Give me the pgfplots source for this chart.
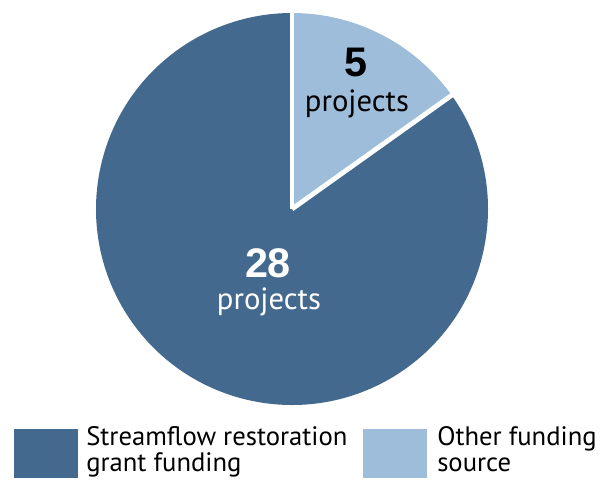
\documentclass[border=0pt]{standalone}
\usepackage{pgfplots}
\pgfplotsset{compat=1.18}
\usepackage{fontspec}
\setmainfont{PT Sans}
\newfontfamily\numfont{Liberation Sans}
\definecolor{darkblue}{RGB}{68,105,143}
\definecolor{lightblue}{RGB}{158,189,218}
\begin{document}
\begin{tikzpicture}
\pgfmathsetmacro{\vA}{28}
\pgfmathsetmacro{\vB}{5}
\pgfmathsetmacro{\angB}{90-360*\vB/(\vA+\vB)}
\begin{axis}[
  scale only axis, width=453pt, height=359.25pt,
  xmin=0, xmax=604, ymin=0, ymax=479, y dir=reverse,
  hide axis, clip=false]
  % pie slices (radius 196 px = 147pt)
  \fill[darkblue] (axis cs:292,209) -- ++(\angB:147pt) arc[start angle=\angB, end angle=-270, radius=147pt] -- cycle;
  \fill[lightblue] (axis cs:292,209) -- ++(90:147pt) arc[start angle=90, end angle=\angB, radius=147pt] -- cycle;
  \draw[white, line width=3.6pt] (axis cs:292,209) -- ++(90:150pt);
  \draw[white, line width=3.6pt] (axis cs:292,209) -- ++(\angB:150pt);
  % labels
  \node[font=\numfont\fontsize{31}{34}\selectfont\bfseries, text=black] at (axis cs:356,62) {5};
  \node[font=\fontsize{23}{26}\selectfont, text=black] at (axis cs:357,104) {projects};
  \node[font=\numfont\fontsize{31}{34}\selectfont\bfseries, text=white] at (axis cs:268,263) {28};
  \node[font=\fontsize{23}{26}\selectfont, text=white] at (axis cs:269,302) {projects};
  % legend
  \fill[darkblue] (axis cs:14,429) rectangle (axis cs:78,478);
  \fill[lightblue] (axis cs:363,429) rectangle (axis cs:427,478);
  \node[anchor=base west, font=\fontsize{20}{24}\selectfont, inner sep=0pt] at (axis cs:86,445) {Streamflow restoration};
  \node[anchor=base west, font=\fontsize{20}{24}\selectfont, inner sep=0pt] at (axis cs:86,471) {grant funding};
  \node[anchor=base west, font=\fontsize{20}{24}\selectfont, inner sep=0pt] at (axis cs:437,445) {Other funding};
  \node[anchor=base west, font=\fontsize{20}{24}\selectfont, inner sep=0pt] at (axis cs:437,471) {source};
\end{axis}
\pgfresetboundingbox
\path (0,0) rectangle (453pt,359.25pt);
\end{tikzpicture}
\end{document}
